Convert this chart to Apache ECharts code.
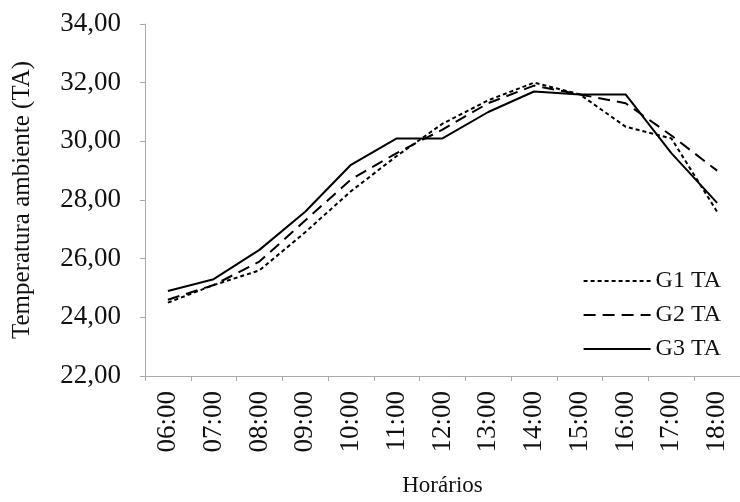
<!DOCTYPE html>
<html>
<head>
<meta charset="utf-8">
<script src="https://cdn.jsdelivr.net/npm/echarts@6/dist/echarts.min.js"></script>
<style>html,body{margin:0;padding:0;background:#fff;}#c{width:740px;height:502px;}</style>
</head>
<body>
<div id="c"></div>
<script>
var categories = ['06:00','07:00','08:00','09:00','10:00','11:00','12:00','13:00','14:00','15:00','16:00','17:00','18:00'];
var g1 = [24.5, 25.1, 25.6, 26.9, 28.3, 29.5, 30.6, 31.4, 32.0, 31.6, 30.5, 30.1, 27.6];
var g2 = [24.6, 25.1, 25.9, 27.3, 28.7, 29.6, 30.4, 31.3, 31.9, 31.6, 31.3, 30.2, 29.0];
var g3 = [24.9, 25.3, 26.3, 27.6, 29.2, 30.1, 30.1, 31.0, 31.7, 31.6, 31.6, 29.6, 27.9];
var seriesNames = ['G1 TA', 'G2 TA', 'G3 TA'];
var yMin = 22, yMax = 34, yStep = 2;

var font = '"Liberation Serif", "Times New Roman", serif';
var chart = echarts.init(document.getElementById('c'), null, {renderer: 'canvas'});
function mk(name, data, dash) {
  return {
    name: name, type: 'line', data: data, symbol: 'none', showSymbol: false,
    lineStyle: {color: '#000', width: 2, type: dash},
    itemStyle: {color: '#000'},
    animation: false
  };
}
chart.setOption({
  animation: false,
  backgroundColor: '#fff',
  grid: {left: 145, right: -13, top: 24, bottom: 117, containLabel: false},
  legend: {
    orient: 'vertical', right: 14, top: 264, itemWidth: 67, itemHeight: 12, itemGap: 10,
    itemStyle: {opacity: 0},
    textStyle: {fontFamily: font, fontSize: 24, color: '#111'},
    data: seriesNames
  },
  xAxis: {
    type: 'category', data: categories, boundaryGap: true,
    name: 'Horários', nameLocation: 'middle', nameGap: 98,
    nameTextStyle: {fontFamily: font, fontSize: 23, color: '#111'},
    axisLine: {lineStyle: {color: '#aaa', width: 1}},
    axisTick: {show: true, length: 5, lineStyle: {color: '#aaa'}},
    axisLabel: {rotate: 90, margin: 15, fontFamily: font, fontSize: 27, color: '#111'}
  },
  yAxis: {
    type: 'value', min: yMin, max: yMax, interval: yStep,
    name: 'Temperatura ambiente (TA)', nameLocation: 'middle', nameGap: 110,
    nameTextStyle: {fontFamily: font, fontSize: 25, color: '#111'},
    axisLine: {show: true, lineStyle: {color: '#aaa', width: 1}},
    axisTick: {show: true, length: 5, lineStyle: {color: '#aaa'}},
    splitLine: {show: false},
    axisLabel: {margin: 24, fontFamily: font, fontSize: 27, color: '#111',
      formatter: function (v) { return v.toFixed(2).replace('.', ','); }}
  },
  series: [
    mk(seriesNames[0], g1, [4, 3]),
    mk(seriesNames[1], g2, [12, 7]),
    mk(seriesNames[2], g3, 'solid')
  ]
});
</script>
</body>
</html>
